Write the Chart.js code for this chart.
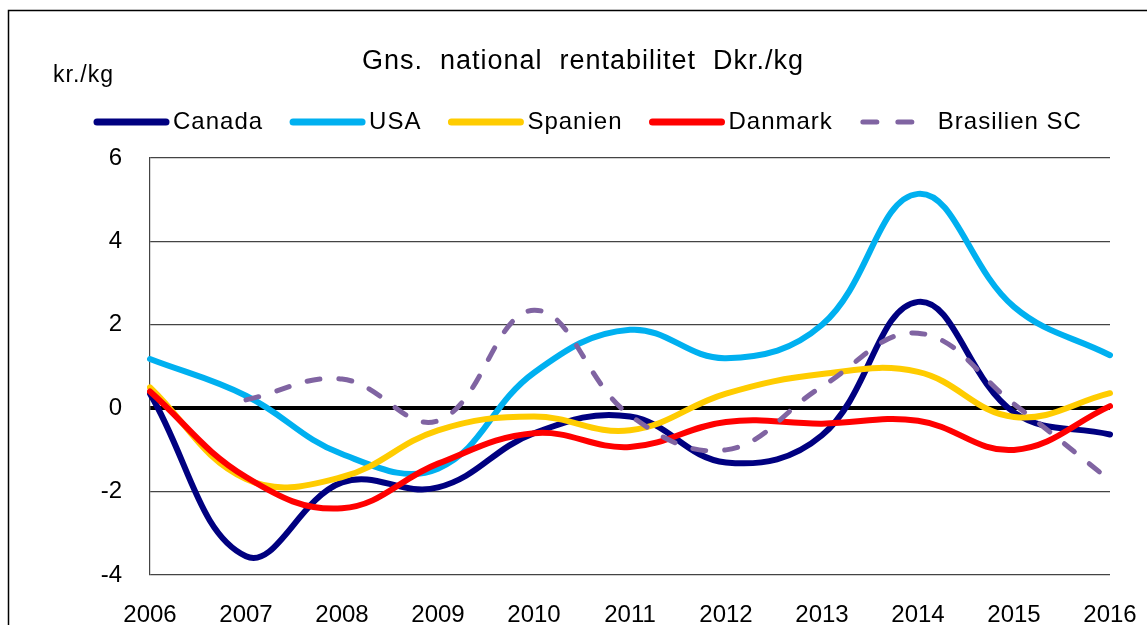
<!DOCTYPE html>
<html>
<head>
<meta charset="utf-8">
<title>Gns. national rentabilitet</title>
<script src="https://cdn.jsdelivr.net/npm/chart.js@4"></script>
<style>
  html, body { margin: 0; padding: 0; background: #fff; }
  canvas { display: block; }
</style>
</head>
<body>
<canvas id="rentChart" width="1147" height="625"></canvas>
<script>
/* DATA */
const years = ["2006", "2007", "2008", "2009", "2010", "2011", "2012", "2013", "2014", "2015", "2016"];
const canada = [0.35, -3.55, -1.78, -1.9, -0.6, -0.2, -1.3, -0.65, 2.55, -0.1, -0.63];
const usa = [1.18, 0.3, -1.1, -1.45, 0.85, 1.88, 1.2, 2.0, 5.14, 2.43, 1.27];
const spanien = [0.5, -1.7, -1.65, -0.53, -0.2, -0.53, 0.35, 0.82, 0.87, -0.21, 0.36];
const danmark = [0.4, -1.65, -2.4, -1.33, -0.6, -0.93, -0.33, -0.37, -0.3, -1.0, 0.05];
const brasilien = [null, 0.2, 0.7, -0.3, 2.35, -0.17, -1.0, 0.52, 1.8, 0.1, -1.73];
const yTicks = [-4, -2, 0, 2, 4, 6];

const FONT = "'Liberation Sans', Arial, sans-serif";

// Frame, title, unit label and legend drawn by hand (Excel look)
const decorPlugin = {
  id: "decor",
  afterDraw(chart) {
    const ctx = chart.ctx;
    ctx.save();
    // outer frame (only top/left visible in the crop)
    ctx.strokeStyle = "#000";
    ctx.lineWidth = 1.5;
    ctx.strokeRect(8.5, 10.5, 1300, 800);

    ctx.fillStyle = "#000";
    ctx.textBaseline = "middle";

    // title
    ctx.font = "27px " + FONT;
    ctx.letterSpacing = "1px";
    ctx.textAlign = "center";
    ctx.fillText("Gns.  national  rentabilitet  Dkr./kg", 583, 62);

    // unit label
    ctx.font = "23px " + FONT;
    ctx.letterSpacing = "1px";
    ctx.textAlign = "left";
    ctx.fillText("kr./kg", 53, 76);

    // legend
    ctx.font = "24px " + FONT;
    ctx.letterSpacing = "1px";
    let x = 95;
    const y = 122;
    chart.data.datasets.forEach((ds) => {
      const dashed = ds.borderDash && ds.borderDash.length;
      ctx.beginPath();
      ctx.lineCap = "round";
      ctx.strokeStyle = ds.borderColor;
      ctx.lineWidth = dashed ? 5 : 7;
      ctx.setLineDash(dashed ? [14, 21] : []);
      ctx.moveTo(x + 2, y);
      ctx.lineTo(x + (dashed ? 53 : 71), y);
      ctx.stroke();
      ctx.setLineDash([]);
      const tx = x + (dashed ? 77 : 78);
      ctx.fillText(ds.label, tx, y);
      x = tx + ctx.measureText(ds.label).width + 28;
    });
    ctx.restore();
  },
};

function series(label, data, color, order, dash) {
  return {
    label: label,
    data: data,
    borderColor: color,
    backgroundColor: color,
    borderWidth: dash ? 5 : 6,
    borderDash: dash || [],
    borderCapStyle: "round",
    borderJoinStyle: "round",
    pointRadius: 0,
    tension: 0.4,
    spanGaps: false,
    fill: false,
    order: order,
  };
}

new Chart("rentChart", {
  type: "line",
  data: {
    labels: years,
    datasets: [
      series("Canada", canada, "#000080", 4),
      series("USA", usa, "#00B0F0", 3),
      series("Spanien", spanien, "#FFCC00", 2),
      series("Danmark", danmark, "#FF0000", 1),
      series("Brasilien SC", brasilien, "#8064A2", 0, [13, 19]),
    ],
  },
  options: {
    responsive: false,
    animation: false,
    devicePixelRatio: 1,
    layout: {
      padding: { left: 0, right: 37, top: 158, bottom: 0 },
    },
    plugins: {
      legend: { display: false },
      title: { display: false },
      tooltip: { enabled: false },
    },
    scales: {
      x: {
        offset: false,
        grid: { display: false, drawTicks: false },
        border: { display: false },
        ticks: {
          color: "#000",
          font: { family: FONT, size: 24 },
          padding: 26,
          maxRotation: 0,
          autoSkip: false,
        },
        afterFit(scale) {
          scale.height = 50;
          scale.paddingLeft = 0;
          scale.paddingRight = 0;
        },
      },
      y: {
        min: -4,
        max: 6,
        afterBuildTicks(scale) {
          scale.ticks = yTicks.map((v) => ({ value: v }));
        },
        grid: {
          drawTicks: false,
          color: (c) => (c.tick && c.tick.value === 0 ? "#000" : "#444"),
          lineWidth: (c) => (c.tick && c.tick.value === 0 ? 4 : 1.2),
        },
        border: { display: true, color: "#444", width: 1.2 },
        ticks: {
          color: "#000",
          font: { family: FONT, size: 24 },
          padding: 28,
        },
        afterFit(scale) {
          scale.width = 150;
          scale.paddingTop = 0;
          scale.paddingBottom = 0;
        },
      },
    },
  },
  plugins: [decorPlugin],
});
</script>
</body>
</html>
